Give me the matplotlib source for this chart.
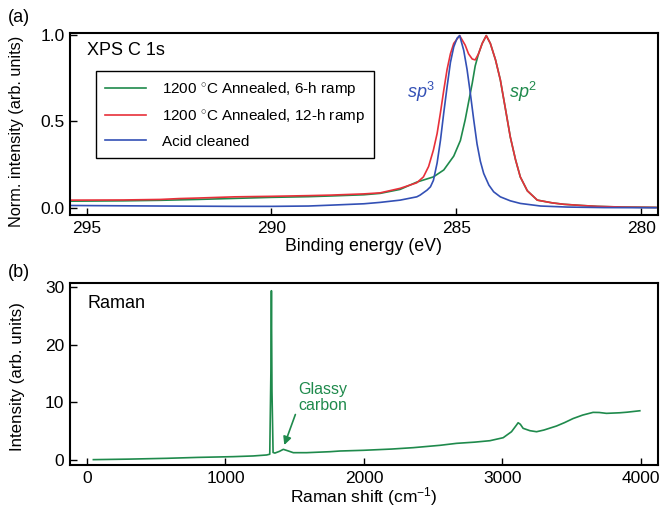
import numpy as np
import matplotlib
matplotlib.use('Agg')
import matplotlib.pyplot as plt

plt.rcParams['font.family'] = ['Liberation Sans', 'DejaVu Sans']
plt.rcParams['mathtext.fontset'] = 'custom'
plt.rcParams['mathtext.rm'] = 'Liberation Sans'
plt.rcParams['mathtext.it'] = 'Liberation Sans:italic'
plt.rcParams['font.size'] = 12

GREEN = '#1f8a4c'
RED = '#e8303a'
BLUE = '#3350b5'

# XPS C 1s, binding energy (eV) and normalized intensity
e_blue = [295.4, 293.0, 291.0, 290.0, 289.0, 288.4, 287.5, 287.06, 286.52, 286.07,
          285.98, 285.79, 285.7, 285.62, 285.52, 285.43, 285.34, 285.25, 285.16,
          285.07, 284.98, 284.91, 284.8, 284.71, 284.62, 284.53, 284.44, 284.35,
          284.26, 284.12, 283.99, 283.81, 283.54, 283.27, 282.72, 282.0, 281.0, 279.6]
i_blue = [0.015, 0.012, 0.01, 0.01, 0.012, 0.017, 0.025, 0.033, 0.046, 0.065,
          0.075, 0.104, 0.123, 0.16, 0.26, 0.39, 0.55, 0.70, 0.84,
          0.93, 0.98, 0.995, 0.91, 0.80, 0.66, 0.51, 0.37, 0.27,
          0.20, 0.133, 0.094, 0.065, 0.042, 0.027, 0.012, 0.006, 0.003, 0.002]

e_green = [295.4, 294.0, 293.0, 292.0, 291.0, 290.0, 289.0, 288.4, 287.5, 287.06,
           286.52, 286.07, 285.62, 285.34, 285.07, 284.89, 284.76, 284.67, 284.57,
           284.49, 284.4, 284.3, 284.19, 284.08, 283.94, 283.81, 283.67, 283.54,
           283.4, 283.27, 283.08, 282.81, 282.4, 282.09, 281.6, 281.19, 280.5, 279.6]
i_green = [0.04, 0.042, 0.045, 0.05, 0.056, 0.062, 0.066, 0.07, 0.077, 0.085,
           0.108, 0.15, 0.18, 0.22, 0.30, 0.39, 0.51, 0.61, 0.72,
           0.82, 0.89, 0.95, 0.995, 0.95, 0.855, 0.74, 0.57, 0.41,
           0.28, 0.18, 0.10, 0.046, 0.03, 0.022, 0.015, 0.01, 0.006, 0.004]

e_red = [295.4, 294.0, 293.0, 292.5, 292.0, 291.0, 290.0, 289.0, 288.4, 287.5,
         287.06, 286.52, 286.07, 285.89, 285.75, 285.62, 285.52, 285.43, 285.34,
         285.25, 285.16, 285.07, 284.91, 284.76, 284.67, 284.57, 284.49, 284.4,
         284.3, 284.19, 284.08, 283.94, 283.81, 283.67, 283.54, 283.4, 283.27,
         283.08, 282.81, 282.4, 282.09, 281.6, 281.19, 280.5, 279.6]
i_red = [0.046, 0.047, 0.05, 0.055, 0.058, 0.065, 0.068, 0.072, 0.075, 0.082,
         0.088, 0.114, 0.146, 0.18, 0.24, 0.335, 0.43, 0.55, 0.68,
         0.80, 0.89, 0.95, 0.995, 0.94, 0.89, 0.86, 0.855, 0.89,
         0.95, 0.995, 0.95, 0.855, 0.74, 0.57, 0.41, 0.28, 0.18,
         0.10, 0.046, 0.03, 0.022, 0.015, 0.01, 0.006, 0.004]

# Raman spectrum
shift = [46, 300, 575, 800, 1056, 1200, 1297, 1320, 1328, 1332, 1336, 1344, 1357,
         1390, 1418, 1450, 1490, 1586, 1755, 1827, 1995, 2200, 2356, 2550, 2669,
         2800, 2910, 3006, 3066, 3100, 3114, 3130, 3150, 3199, 3247, 3300, 3391,
         3450, 3511, 3580, 3655, 3700, 3752, 3800, 3848, 3900, 3993]
raman = [0.06, 0.15, 0.29, 0.45, 0.58, 0.7, 0.87, 1.0, 15.0, 29.4, 12.0, 1.3, 1.2,
         1.5, 1.85, 1.6, 1.27, 1.27, 1.44, 1.56, 1.68, 1.9, 2.14, 2.55, 2.89,
         3.1, 3.35, 3.87, 4.91, 6.0, 6.47, 6.2, 5.5, 5.09, 4.91, 5.2, 5.9,
         6.5, 7.2, 7.8, 8.27, 8.25, 8.1, 8.15, 8.2, 8.3, 8.55]

fig = plt.figure(figsize=(6.62, 5.12), dpi=100)
ax1 = fig.add_axes([0.1057, 0.580, 0.888, 0.3555])
ax2 = fig.add_axes([0.1057, 0.0918, 0.888, 0.355])

for ax in (ax1, ax2):
    for s in ax.spines.values():
        s.set_linewidth(1.5)
    ax.tick_params(direction='in', length=5, width=1, labelsize=12.5, pad=4)

ax1.plot(e_green, i_green, color=GREEN, lw=1.2, label='1200 $^{\\circ}$C Annealed, 6-h ramp')
ax1.plot(e_red, i_red, color=RED, lw=1.2, label='1200 $^{\\circ}$C Annealed, 12-h ramp')
ax1.plot(e_blue, i_blue, color=BLUE, lw=1.2, label='Acid cleaned')
ax1.set_xlim(295.45, 279.55)
ax1.set_ylim(-0.04, 1.01)
ax1.set_xticks([295, 290, 285, 280])
ax1.set_yticks([0.0, 0.5, 1.0])
ax1.set_yticklabels(['0.0', '0.5', '1.0'])
ax1.set_xlabel('Binding energy (eV)', fontsize=12.8, labelpad=2)
ax1.set_ylabel('Norm. intensity (arb. units)', fontsize=11.7)
ax1.yaxis.set_label_coords(-0.079, 0.46)
ax1.text(0.029, 0.905, 'XPS C 1s', transform=ax1.transAxes, fontsize=13, va='center')
ax1.text(285.95, 0.67, '$\\mathit{sp}^3$', color=BLUE, fontsize=13, ha='center', va='center')
ax1.text(283.2, 0.67, '$\\mathit{sp}^2$', color=GREEN, fontsize=13, ha='center', va='center')
leg = ax1.legend(loc='upper left', bbox_to_anchor=(0.044, 0.791), fontsize=11,
                 fancybox=False, edgecolor='black', framealpha=1, borderpad=0.6,
                 handlelength=2.7, labelspacing=0.6, handletextpad=1.0, borderaxespad=0)
leg.get_frame().set_linewidth(1.0)

ax2.plot(shift, raman, color=GREEN, lw=1.2)
ax2.set_xlim(-123, 4123)
ax2.set_ylim(-0.87, 30.7)
ax2.set_xticks([0, 1000, 2000, 3000, 4000])
ax2.set_yticks([0, 10, 20, 30])
ax2.set_xlabel('Raman shift (cm$^{-1}$)', fontsize=12.5, labelpad=0)
ax2.set_ylabel('Intensity (arb. units)', fontsize=12.2)
ax2.yaxis.set_label_coords(-0.077, 0.489)
ax2.text(0.029, 0.89, 'Raman', transform=ax2.transAxes, fontsize=13, va='center')
ax2.text(1700, 10.9, 'Glassy\ncarbon', color=GREEN, fontsize=11.5, ha='center',
         va='center', linespacing=1.1)
ax2.annotate('', xy=(1425, 2.6), xytext=(1505, 7.9),
             arrowprops=dict(arrowstyle='-|>', color=GREEN, lw=1.2, shrinkA=0,
                             shrinkB=0, mutation_scale=12))

fig.text(0.012, 0.965, '(a)', fontsize=13, va='center')
fig.text(0.012, 0.468, '(b)', fontsize=13, va='center')

fig.savefig('out.png', dpi=100)
